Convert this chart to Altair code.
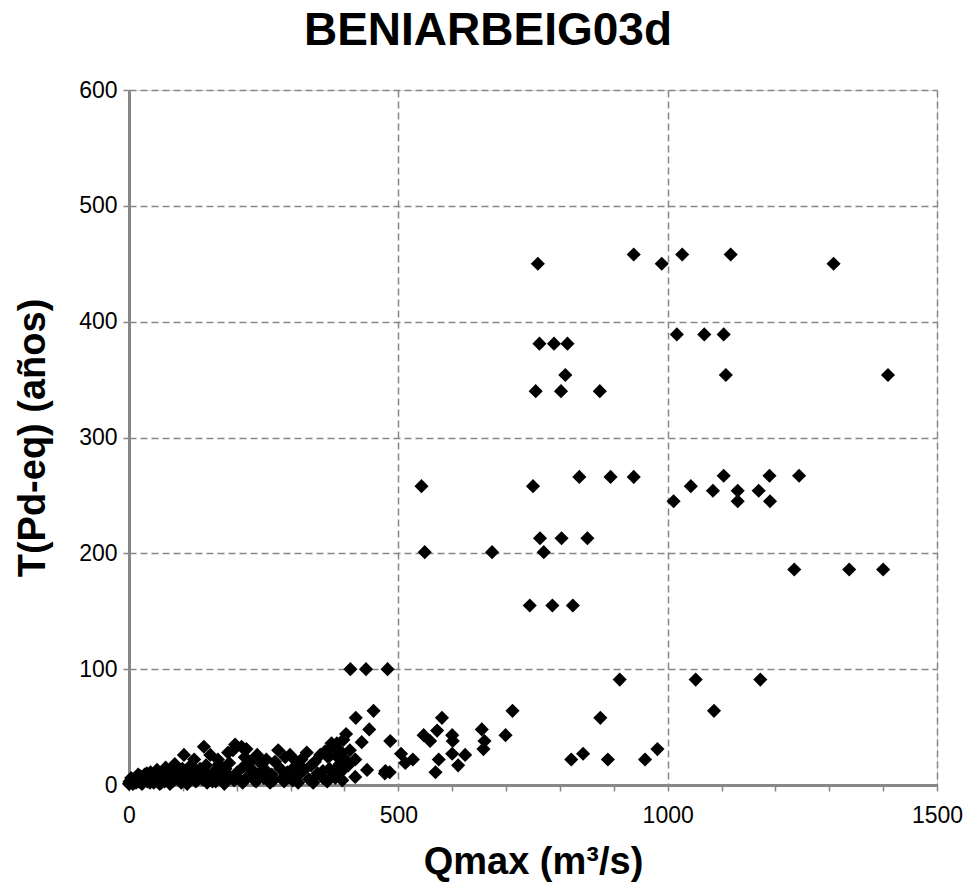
import altair as alt
import pandas as pd

# Scattered points (Qmax m3/s, T years)
q_high = [759, 937, 989, 1027, 1117, 1308,
          762, 789, 814, 1017, 1068, 1104,
          810, 1108, 1409,
          755, 802, 874,
          543, 750, 836, 894, 937, 1011, 1043, 1084, 1104, 1130, 1130, 1169, 1189, 1190, 1244,
          549, 674, 763, 770, 803, 851,
          1235, 1337, 1400,
          744, 786, 824]
t_high = [450, 458, 450, 458, 458, 450,
          381, 381, 381, 389, 389, 389,
          354, 354, 354,
          340, 340, 340,
          258, 258, 266, 266, 266, 245, 258, 254, 267, 254, 245, 254, 267, 245, 267,
          201, 201, 213, 201, 213, 213,
          186, 186, 186,
          155, 155, 155]

q_mid = [411, 440, 480, 911, 1052, 1172, 1086, 712,
         875, 821, 843, 889, 958, 981,
         581, 547, 559, 572, 600, 601, 655, 660, 658, 699, 505, 513, 527, 575, 569, 600, 611, 624,
         475, 484, 485,
         421, 454, 446, 403, 432, 410, 420, 401, 370, 383, 395, 407, 420, 442, 476, 383, 389, 376, 398]
t_mid = [100, 100, 100, 91, 91, 91, 64, 64,
         58, 22, 27, 22, 22, 31,
         58, 43, 38, 47, 43, 38, 48, 38, 31, 43, 27, 19, 22, 22, 11, 27, 17, 26,
         10, 11, 38,
         58, 64, 48, 44, 37, 30, 22, 22, 24, 13, 12, 17, 7, 13, 12, 6, 30, 36, 39]

q_low = [0, 1, 3, 5, 7, 9, 11, 13, 15, 18, 20, 23, 26, 29, 31, 34, 37, 40, 43, 46, 49, 52, 55, 58,
         61, 64, 68, 71, 74, 78, 81, 85, 88, 92, 95, 99, 102, 106, 110, 113, 117, 121, 124, 128,
         132, 136, 139, 143, 147, 151, 155, 159, 163, 167, 171, 175, 179, 184, 188, 193, 197, 201,
         205, 209, 213, 218, 222, 225, 229, 233, 238, 242, 246, 250, 255, 260, 265, 271, 277, 281,
         285, 290, 294, 299, 304, 308, 311, 316, 320, 325, 330, 334, 338, 345, 350, 355, 360, 364,
         370, 372, 378, 386, 391, 396,
         20, 45, 60, 90, 115, 140, 165, 186, 215, 255, 268, 300, 340, 360, 385, 395,
         4, 10, 17, 24, 33, 39, 50, 57, 66, 76, 83, 97, 108, 126, 145, 161, 177, 195, 211, 236,
         262, 288, 314, 342, 368]
t_low = [1, 3, 2, 4, 1, 3, 5, 2, 6, 3, 8, 4, 2, 9, 5, 3, 7, 11, 4, 2, 8, 13, 5, 3,
         10, 6, 15, 4, 8, 12, 3, 18, 7, 5, 10, 14, 26, 4, 8, 12, 6, 22, 3, 9,
         14, 5, 33, 17, 8, 26, 3, 12, 6, 18, 9, 4, 14, 28, 7, 30, 35, 11,
         5, 33, 16, 31, 8, 20, 13, 4, 26, 10, 18, 6, 12, 3, 9, 20, 30, 14,
         6, 24, 11, 26, 4, 16, 20, 9, 22, 13, 28, 5, 17, 20, 10, 26, 6, 29,
         30, 14, 8, 36, 18, 4,
         3, 6, 2, 12, 17, 11, 22, 19, 24, 22, 4, 7, 3, 12, 25, 28,
         6, 2, 9, 1, 10, 2, 4, 1, 3, 1, 6, 2, 1, 4, 2, 3, 1, 4, 2, 3,
         2, 3, 2, 2, 3]

x_ticks = list(range(0, 1501, 100))
y_ticks = [0, 100, 200, 300, 400, 500, 600]

df = pd.DataFrame({
    "Qmax": q_high + q_mid + q_low,
    "T": t_high + t_mid + t_low,
})

FONT = "Liberation Sans"
GRAY = "#878787"

chart = alt.Chart(df).mark_point(
    shape="diamond", filled=True, size=200, color="black", opacity=1, clip=False
).encode(
    x=alt.X("Qmax:Q", scale=alt.Scale(domain=[0, 1500], nice=False),
            axis=alt.Axis(
                title="Qmax (m³/s)", values=x_ticks,
                labelExpr="datum.value % 500 === 0 ? datum.label : ''",
                format="d",
                titleFont=FONT, titleFontSize=38, titleFontWeight="bold", titleColor="black",
                titlePadding=16,
                labelFont=FONT, labelFontSize=23, labelColor="black", labelPadding=13,
                labelFlush=False,
                domainColor=GRAY, domainWidth=3, tickColor=GRAY, tickWidth=1.5, tickSize=6,
                gridColor=GRAY, gridWidth=1.5, gridDash=[7, 4],
                gridOpacity={"condition": {"test": "datum.value % 500 === 0 && datum.value > 0", "value": 1}, "value": 0},
            )),
    y=alt.Y("T:Q", scale=alt.Scale(domain=[0, 600], nice=False),
            axis=alt.Axis(
                title="T(Pd-eq) (años)", values=y_ticks, format="d",
                titleFont=FONT, titleFontSize=38, titleFontWeight="bold", titleColor="black",
                titlePadding=26,
                labelFont=FONT, labelFontSize=23, labelColor="black", labelPadding=6,
                labelFlush=False,
                domainColor=GRAY, domainWidth=3, tickColor=GRAY, tickWidth=1.5, tickSize=6,
                gridColor=GRAY, gridWidth=1.5, gridDash=[7, 4],
            )),
).properties(
    width=808, height=695,
    title=alt.TitleParams("BENIARBEIG03d", font=FONT, fontSize=46, fontWeight="bold",
                          color="black", anchor="middle", dx=-45, offset=24),
    autosize=alt.AutoSizeParams(type="none"),
    padding={"left": 129, "top": 90, "right": 39, "bottom": 98},
).configure_view(stroke=None).configure(background="white")

chart.save("out.html", embed_options={"renderer": "svg", "actions": False})
